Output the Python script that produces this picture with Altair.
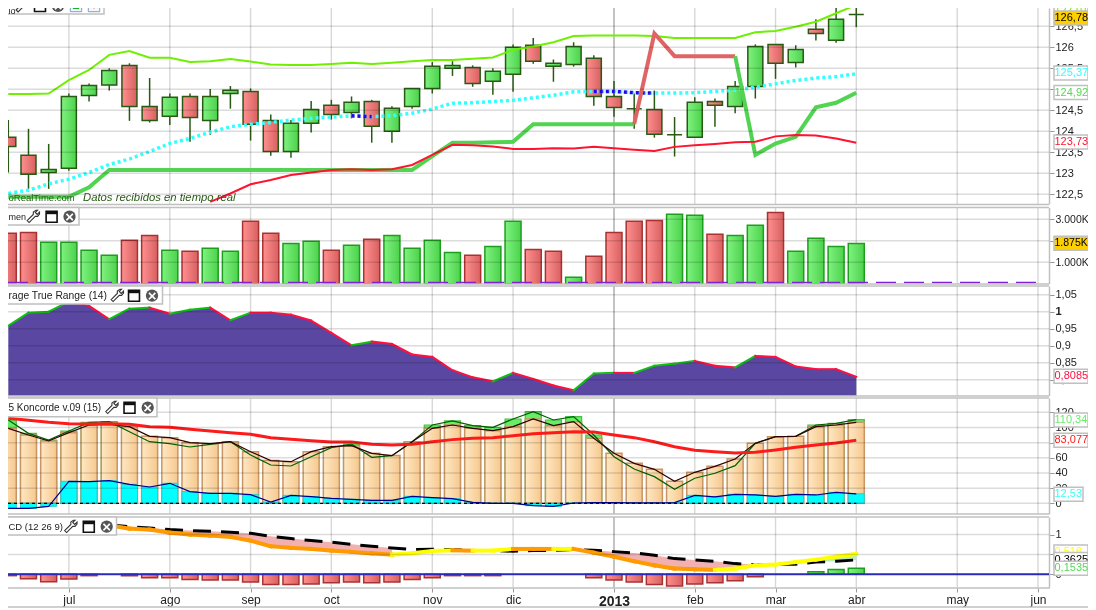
import altair as alt
import pandas as pd

FONT = "Liberation Sans"
idx = list(range(43))
# candles: high, body top, body bottom, low, up flag
c_high = [124.27,124.06,123.70,124.90,125.14,125.50,125.62,125.27,124.90,124.90,125.01,125.08,125.02,124.40,124.27,124.72,124.75,124.83,124.75,124.60,125.02,125.65,125.67,125.57,125.50,126.07,126.22,125.71,126.12,125.81,125.20,124.90,124.97,124.34,124.81,124.78,125.20,126.07,126.07,126.05,126.67,126.95,127.00]
c_top = [123.86,123.43,123.09,124.83,125.09,125.45,125.57,124.59,124.81,124.83,124.83,124.98,124.95,124.26,124.19,124.52,124.62,124.69,124.71,124.55,125.02,125.55,125.57,125.52,125.43,126.00,126.05,125.62,126.02,125.74,124.83,124.54,124.52,123.92,124.69,124.71,125.07,126.02,126.07,125.95,126.43,126.67,126.78]
c_bot = [123.64,122.98,123.02,123.12,124.85,125.10,124.59,124.26,124.36,124.33,124.26,124.90,124.17,123.52,123.52,124.19,124.40,124.45,124.12,124.00,124.59,125.02,125.50,125.14,125.19,125.36,125.67,125.55,125.59,124.83,124.57,124.54,123.93,123.92,123.86,124.62,124.59,125.07,125.62,125.64,126.33,126.17,126.78]
c_low = [123.02,122.63,122.63,123.06,124.71,124.97,124.25,124.21,124.15,123.75,123.92,124.54,123.78,123.42,123.37,123.97,124.28,124.31,123.73,123.73,124.54,124.90,125.32,125.06,124.87,124.94,125.61,125.18,125.54,124.61,124.35,124.06,123.85,123.40,123.86,124.11,124.43,124.78,125.25,125.52,126.16,126.11,126.48]
c_up = [0,0,1,1,1,1,0,0,1,0,1,1,0,0,1,1,0,1,0,1,1,1,1,0,1,1,0,1,1,0,0,1,0,1,1,0,1,1,0,1,0,1,1]
band_up = [124.89,124.89,124.90,125.22,125.46,125.82,125.91,125.75,125.75,125.65,125.67,125.72,125.66,125.59,125.58,125.58,125.60,125.63,125.60,125.63,125.67,125.70,125.70,125.73,125.76,125.94,126.02,126.12,126.27,126.28,126.28,126.28,126.27,126.22,126.22,126.22,126.22,126.36,126.39,126.49,126.61,126.81,127.01]
band_mid = [122.52,122.60,122.75,122.86,123.02,123.21,123.34,123.52,123.71,123.83,123.98,124.11,124.17,124.21,124.27,124.31,124.34,124.37,124.35,124.37,124.43,124.53,124.67,124.68,124.71,124.74,124.80,124.86,124.94,124.95,124.95,124.92,124.91,124.91,124.92,124.95,124.98,125.05,125.13,125.21,125.27,125.30,125.37]
stop_line = [122.44,122.44,122.44,122.44,122.67,123.08,123.08,123.08,123.08,123.08,123.08,123.08,123.08,123.08,123.08,123.08,123.08,123.08,123.08,123.08,123.08,123.41,123.73,123.73,123.74,123.75,124.17,124.17,124.17,124.17,124.17,124.17,126.33,125.79,125.79,125.79,125.79,123.44,123.71,123.87,124.57,124.68,124.92]
band_low = [None]*10 + [122.32,122.52,122.74,122.84,122.96,123.02,123.08,123.10,123.08,123.10,123.20,123.44,123.68,123.67,123.64,123.58,123.58,123.60,123.59,123.63,123.60,123.56,123.53,123.63,123.67,123.70,123.74,123.75,123.88,123.91,123.90,123.83,123.73]
# volume (thousands)
vol = [2.35,2.39,1.93,1.93,1.56,1.33,2.02,2.25,1.56,1.51,1.65,1.51,2.91,2.35,1.88,1.98,1.56,1.79,2.07,2.25,1.65,2.02,1.46,1.33,1.74,2.91,1.60,1.51,0.30,1.28,2.39,2.91,2.95,3.23,3.19,2.30,2.25,2.72,3.32,1.51,2.12,1.74,1.875]
vol_up = [0,0,1,1,1,1,0,0,1,0,1,1,0,0,1,1,0,1,0,1,1,1,1,0,1,1,0,0,1,0,0,0,0,1,1,0,1,1,0,1,1,1,1]
vol_base = [0.06]
# ATR
atr = [0.959,0.997,1.0,1.03,1.017,0.978,1.009,1.012,0.994,1.006,1.012,0.975,0.997,0.997,0.991,0.974,0.938,0.901,0.912,0.905,0.874,0.867,0.828,0.807,0.795,0.820,0.802,0.783,0.769,0.818,0.820,0.820,0.841,0.847,0.855,0.841,0.836,0.870,0.867,0.839,0.831,0.831,0.8085]
# Koncorde
k_peach = [98.9,90.1,82.2,93.2,103.3,104.2,101.1,88.4,86.6,80,78.7,81.3,68.1,56.3,54.9,68.1,74.7,76,65.9,62.9,81.3,98.9,103.3,98.9,95.8,101.1,111.2,102.4,107.7,85.7,65.9,52.7,44.8,29,40.9,48.8,58.5,79.1,87.9,88.4,101.1,103.3,106.8]
k_green = [109.9,92.3,83.5,95.4,106.8,107.7,94.5,81.3,78.7,74.3,77.8,81.3,63.7,50.5,49.2,61.5,73.4,78.2,60.7,62.9,81.3,103.3,108.6,102.4,100.2,111.2,120.9,109.9,114.3,90.1,61.5,45.3,35.2,18.5,33,39.6,49.7,79.1,87.9,88.4,103.3,105.5,110.34]
k_cyan = [-6.6,-6.6,-4,29,28.6,29.9,25,21.5,26.4,15.4,13.2,13.2,11.4,1.5,10.5,8.8,6.6,5.3,4,4,9.2,7.5,6.2,1.3,0,0,-3.1,-4,0.4,1,1,0.5,0.5,1,10.5,8.4,11.9,11,9.2,11.9,11,14.5,12.53]
k_red = [112.1,109.5,106.8,105.1,104.6,105.1,104.2,101.1,100.2,97.6,95.4,93.2,91,86.6,84.4,82.6,80.9,80.9,77.8,76.9,77.8,81.3,84,85.7,86.6,89.2,91.9,93.2,94.5,94.1,90.1,86.6,81.3,74.7,69.9,68.1,66.4,67.3,70.3,73.8,76.9,79.6,83.077]
# MACD (from week 5)
m_idx = list(range(5, 43))
m_line = [1.235,1.151,1.126,1.050,1.0,0.975,0.941,0.849,0.706,0.664,0.639,0.597,0.563,0.529,0.496,0.529,0.588,0.605,0.597,0.597,0.639,0.639,0.639,0.639,0.546,0.445,0.328,0.227,0.143,0.126,0.109,0.143,0.227,0.244,0.311,0.370,0.445,0.516]
m_sig = [1.25,1.2,1.168,1.126,1.10,1.084,1.059,1.034,0.958,0.899,0.849,0.807,0.756,0.706,0.664,0.622,0.630,0.622,0.597,0.597,0.580,0.597,0.605,0.622,0.605,0.571,0.538,0.479,0.395,0.361,0.328,0.269,0.244,0.252,0.252,0.311,0.328,0.3625]
m_rising = [19,20,21,23,24,27,35,36,37,38,39,40,41]
m_hist = [-0.034,-0.11,-0.19,-0.12,-0.034,0,-0.034,-0.084,-0.084,-0.134,-0.143,-0.143,-0.193,-0.26,-0.26,-0.244,-0.21,-0.193,-0.21,-0.193,-0.134,-0.084,-0.034,-0.034,-0.034,0,0,0,0,-0.084,-0.143,-0.193,-0.26,-0.294,-0.244,-0.21,-0.16,-0.059,0,0,0.067,0.118,0.1535]
# time axis
month_pos = [3,8,12,16,21,25,30,34,38,42,47,51]
month_lab = ["jul","ago","sep","oct","nov","dic","2013","feb","mar","abr","may","jun"]
# tick values per panel
ticks1 = [122.5,123,123.5,124,124.5,125,125.5,126,126.5]
ticks2 = [1,2,3]
ticks3 = [0.8,0.85,0.9,0.95,1,1.05]
ticks4 = [0,20,40,60,80,100,120]
ticks5 = [0,0.5,1]
# panel domains and pixel ranges
dom1, rng1 = [122.27, 126.936], [196, 0]
dom2, rng2 = [0, 3.549], [275.8, 199.5]
dom3, rng3 = [0.7529, 1.0756], [387.7, 278]
dom4, rng4 = [-14.1, 138.9], [506, 390]
dom5, rng5 = [-0.345, 1.443], [580, 509]

W, H = 1041, 580
XMIN, XMAX = -0.0149, 51.545
GRID = "#d8d8d8"
FRAME = "#c0c0c0"
CANDLE = "#285a14"
def grad(a, b):
    return {"gradient": "linear", "x1": 0, "x2": 1, "y1": 0, "y2": 0,
            "stops": [{"offset": 0, "color": a}, {"offset": 1, "color": b}]}
G_GREEN = grad("#80f280", "#4cd24c")
G_RED = grad("#ff9090", "#d86060")
G_PEACH = grad("#ffe8c4", "#f6c88e")

xs = alt.Scale(domain=[XMIN, XMAX], range=[0, W], nice=False, zero=False, padding=0)
label_expr = "{" + ",".join(f"'{p}':'{m}'" for p, m in zip(month_pos, month_lab)) + "}[datum.value]"
x_axis = alt.Axis(
    values=month_pos, labelExpr=label_expr, title=None, grid=False,
    domain=False, tickColor="#999999", tickSize=4, labelFont=FONT, labelColor="#222222",
    labelFontSize={"condition": {"test": "datum.value == 30", "value": 14}, "value": 12},
    labelFontWeight={"condition": {"test": "datum.value == 30", "value": "bold"}, "value": "normal"},
    labelPadding=2, labelOverlap=False)
def X(f="i"):
    return alt.X(f"{f}:Q", scale=xs, axis=x_axis)

def yaxis(values, expr, weight=None, size=11):
    kw = {}
    if weight is not None:
        kw["labelFontWeight"] = {"condition": {"test": weight, "value": "bold"}, "value": "normal"}
    return alt.Axis(orient="right", values=values, labelExpr=expr, title=None, grid=False,
                    domainColor=FRAME, domainWidth=1.5,
                    tickColor="#999999", tickSize=5, labelFont=FONT, labelFontSize=size,
                    labelColor="#222222", labelPadding=1, labelOverlap=False, **kw)

COMMA = "replace(datum.value + '', '.', ',')"

month_df = pd.DataFrame({"i": month_pos, "c": ["#aaaaaa" if m == "2013" else GRID for m in month_lab]})
month_grid = alt.Chart(month_df).mark_rule(strokeWidth=1.4).encode(
    x=X(), y=alt.value(0), y2=alt.value(H), color=alt.Color("c:N", scale=None))

# ---------- Panel 1
s1 = alt.Scale(domain=dom1, range=rng1, nice=False, zero=False, padding=0)
a1 = yaxis(ticks1, COMMA)
def Y1(f):
    return alt.Y(f"{f}:Q", scale=s1, axis=a1)
df1 = pd.DataFrame({"i": idx, "h": c_high, "t": c_top, "b": c_bot, "l": c_low, "up": c_up,
                    "u": band_up, "m": band_mid, "s": stop_line, "r": band_low})
p1_layers = [
    alt.Chart(df1).mark_rule(color=CANDLE, strokeWidth=1.5).encode(x=X(), y=Y1("h"), y2="l:Q"),
]
for flag, g in ((1, G_GREEN), (0, G_RED)):
    p1_layers.append(alt.Chart(df1[df1.up == flag]).mark_bar(size=15, fill=g, stroke=CANDLE, strokeWidth=1.5).encode(
        x=X(), y=Y1("t"), y2="b:Q"))
p1_layers += [
    alt.Chart(df1).mark_line(color="#33ffff", strokeWidth=3.5, strokeDash=[3, 3]).encode(x=X(), y=Y1("m")),
    alt.Chart(df1[df1.i.isin([17, 18])]).mark_line(color="#2a00f0", strokeWidth=3.5, strokeDash=[3, 3]).encode(x=X(), y=Y1("m")),
    alt.Chart(df1[df1.i.isin([29, 30, 31, 32])]).mark_line(color="#2a00f0", strokeWidth=3.5, strokeDash=[3, 3]).encode(x=X(), y=Y1("m")),
    alt.Chart(df1).mark_line(color="#6ef000", strokeWidth=2).encode(x=X(), y=Y1("u")),
    alt.Chart(df1[df1.i <= 31]).mark_line(color="#52d452", strokeWidth=4).encode(x=X(), y=Y1("s")),
    alt.Chart(df1[(df1.i >= 31) & (df1.i <= 36)]).mark_line(color="#e06464", strokeWidth=4).encode(x=X(), y=Y1("s")),
    alt.Chart(df1[df1.i >= 36]).mark_line(color="#52d452", strokeWidth=4).encode(x=X(), y=Y1("s")),
    alt.Chart(df1[df1.r.notna()]).mark_line(color="#ff1430", strokeWidth=2).encode(x=X(), y=Y1("r")),
]
p1 = alt.layer(*p1_layers)

# ---------- Panel 2
s2 = alt.Scale(domain=dom2, range=rng2, nice=False, zero=False, padding=0)
a2 = yaxis(ticks2, "datum.value == 2 ? '' : format(datum.value, '.3f') + 'K'", size=10.5)
def Y2(f):
    return alt.Y(f"{f}:Q", scale=s2, axis=a2, stack=None)
df2 = pd.DataFrame({"i": idx, "v": vol, "up": vol_up})
df2["z"] = 0.0
p2 = alt.layer(
    alt.Chart(df2[df2.up == 1]).mark_bar(size=16, fill=G_GREEN, stroke="#1e9e1e", strokeWidth=1.5).encode(
        x=X(), y=Y2("v"), y2="z:Q"),
    alt.Chart(df2[df2.up == 0]).mark_bar(size=16, fill=G_RED, stroke="#a83232", strokeWidth=1.5).encode(
        x=X(), y=Y2("v"), y2="z:Q"),
    alt.Chart(pd.DataFrame({"a": [XMIN], "b": [51.05], "v": vol_base})).mark_rule(
        color="#8020d8", strokeWidth=1.5, strokeDash=[20, 8]).encode(x=X("a"), x2="b:Q", y=Y2("v")),
)

# ---------- Panel 3
s3 = alt.Scale(domain=dom3, range=rng3, nice=False, zero=False, padding=0)
a3 = yaxis(ticks3, COMMA, "datum.value == 1")
def Y3(f):
    return alt.Y(f"{f}:Q", scale=s3, axis=a3)
df3 = pd.DataFrame({"i": idx, "v": atr})
df3["z"] = 0.7529
seg3 = pd.DataFrame({"i": idx[:-1], "i2": idx[1:], "v": atr[:-1], "v2": atr[1:]})
seg3["c"] = ["#10c010" if b > a else "#ff1040" for a, b in zip(atr[:-1], atr[1:])]
p3 = alt.layer(
    alt.Chart(df3).mark_area(color="#5947a1", orient="vertical").encode(x=X(), y=Y3("v"), y2="z:Q"),
    alt.Chart(seg3).mark_rule(strokeWidth=2, strokeCap="square").encode(
        x=X(), x2="i2:Q", y=Y3("v"), y2="v2:Q", color=alt.Color("c:N", scale=None)),
)

# ---------- Panel 4
s4 = alt.Scale(domain=dom4, range=rng4, nice=False, zero=False, padding=0)
a4 = yaxis(ticks4, COMMA)
def Y4(f):
    return alt.Y(f"{f}:Q", scale=s4, axis=a4, stack=None)
df4 = pd.DataFrame({"i": idx, "p": k_peach, "g": k_green, "c": k_cyan, "r": k_red})
df4["z"] = 0.0
p4 = alt.layer(
    alt.Chart(df4[df4.g > df4.p]).mark_bar(size=16, fill="#66ee66", stroke="#48c048", strokeWidth=1.2).encode(
        x=X(), y=Y4("g"), y2="z:Q"),
    alt.Chart(df4).mark_bar(size=16, fill=G_PEACH, stroke="#c89664", strokeWidth=1.5).encode(
        x=X(), y=Y4("p"), y2="z:Q"),
    alt.Chart(df4).mark_bar(size=16, fill="#00ffff", stroke="#30c8c8", strokeWidth=1).encode(
        x=X(), y=Y4("c"), y2="z:Q"),
    alt.Chart(pd.DataFrame({"a": [XMIN], "b": [42], "z": [0.0]})).mark_rule(
        color="#000000", strokeWidth=1.2, strokeDash=[3, 3]).encode(x=X("a"), x2="b:Q", y=Y4("z")),
    alt.Chart(df4).mark_line(color="#000090", strokeWidth=1.2).encode(x=X(), y=Y4("c")),
    alt.Chart(df4).mark_line(color="#006000", strokeWidth=1.2).encode(x=X(), y=Y4("g")),
    alt.Chart(df4).mark_line(color="#300000", strokeWidth=1.2).encode(x=X(), y=Y4("p")),
    alt.Chart(df4).mark_line(color="#ff1a1a", strokeWidth=3).encode(x=X(), y=Y4("r")),
)

# ---------- Panel 5
s5 = alt.Scale(domain=dom5, range=rng5, nice=False, zero=False, padding=0)
a5 = yaxis(ticks5, "datum.value == 0.5 ? '' : " + COMMA)
def Y5(f):
    return alt.Y(f"{f}:Q", scale=s5, axis=a5, stack=None)
df5 = pd.DataFrame({"i": m_idx, "m": m_line, "s": m_sig})
dfh = pd.DataFrame({"i": idx, "h": m_hist})
dfh["z"] = 0.0
seg5 = pd.DataFrame({"i": m_idx[:-1], "i2": m_idx[1:], "v": m_line[:-1], "v2": m_line[1:]})
seg5["c"] = ["#ffff00" if k in m_rising else "#ff9a00" for k in seg5.i]
p5 = alt.layer(
    alt.Chart(dfh[dfh.h < 0]).mark_bar(size=16, fill=G_RED, stroke="#a83232", strokeWidth=1.5).encode(
        x=X(), y=Y5("h"), y2="z:Q"),
    alt.Chart(dfh[dfh.h > 0]).mark_bar(size=16, fill=G_GREEN, stroke="#1e9e1e", strokeWidth=1.5).encode(
        x=X(), y=Y5("h"), y2="z:Q"),
    alt.Chart(df5[df5.i <= 19]).mark_area(color="#f2b0b0", orient="vertical").encode(x=X(), y=Y5("m"), y2="s:Q"),
    alt.Chart(df5[(df5.i >= 28) & (df5.i <= 38)]).mark_area(color="#f2b0b0", orient="vertical").encode(x=X(), y=Y5("m"), y2="s:Q"),
    alt.Chart(df5[df5.i >= 38]).mark_area(color="#b8ecb8", orient="vertical").encode(x=X(), y=Y5("m"), y2="s:Q"),
    alt.Chart(df5).mark_line(color="#000000", strokeWidth=3, strokeDash=[18, 10]).encode(x=X(), y=Y5("s")),
    alt.Chart(seg5).mark_rule(strokeWidth=4, strokeCap="square").encode(
        x=X(), x2="i2:Q", y=Y5("v"), y2="v2:Q", color=alt.Color("c:N", scale=None)),
    alt.Chart(pd.DataFrame({"z": [0.0]})).mark_rule(color="#3030d8", strokeWidth=2).encode(y=Y5("z")),
)

# ---------- chrome helpers (page pixels minus the 8px page margin)
ONE = pd.DataFrame({"a": [0]})
def px(v):
    return alt.value(v - 8)
def box(x0, x1, y0, y1, fill="white", stroke=FRAME, sw=1.5):
    return alt.Chart(ONE).mark_rect(fill=fill, stroke=stroke, strokeWidth=sw).encode(
        x=px(x0), x2=px(x1), y=px(y0), y2=px(y1))
def hline(y, x0=8, x1=1049, color=FRAME):
    return alt.Chart(ONE).mark_rule(color=color, strokeWidth=1.5).encode(
        x=px(x0), x2=px(x1), y=px(y))
def text(x, y, s, color="#222222", align="left", size=11, **kw):
    return alt.Chart(ONE).mark_text(text=s, color=color, align=align, baseline="middle",
                                    font=FONT, fontSize=size, **kw).encode(x=px(x), y=px(y))

# horizontal grid lines, blended so that they stay faint over the marks
def tick_page_y(v, dom, rng):
    return rng[0] + (v - dom[0]) / (dom[1] - dom[0]) * (rng[1] - rng[0]) + 8
def gline(y):
    return alt.Chart(ONE).mark_rule(color="#dcdcdc", strokeWidth=1.5, blend="multiply").encode(
        x=px(8), x2=px(1049), y=px(y))
hgrid = []
for ticks, dom, rng in ((ticks1, dom1, rng1), (ticks2, dom2, rng2), (ticks3, dom3, rng3),
                        (ticks4, dom4, rng4), (ticks5, dom5, rng5)):
    hgrid += [gline(tick_page_y(v, dom, rng)) for v in ticks]

WRENCH = "M-0.9,0.6L0.05,-0.35L0.05,-0.7L0.45,-1L0.7,-1L0.35,-0.65L0.65,-0.35L1,-0.7L1,-0.4L0.7,-0.05L0.35,-0.05L-0.6,0.9Z"
def toolbar(right, top, bottom, label, tx, tsize, ty, wx, vx, cx, cy):
    return [
        box(0, right, top, bottom),
        text(tx, ty, label, size=tsize),
        alt.Chart(ONE).mark_point(shape=WRENCH, size=170, fill="white", stroke="#333333", strokeWidth=1.1, opacity=1).encode(x=px(wx), y=px(cy)),
        alt.Chart(ONE).mark_point(shape="square", size=120, fill="white", stroke="#111111", strokeWidth=1.6, opacity=1).encode(x=px(vx), y=px(cy)),
        alt.Chart(ONE).mark_rule(color="#111111", strokeWidth=3).encode(x=px(vx - 5.5), x2=px(vx + 5.5), y=px(cy - 4)),
        alt.Chart(ONE).mark_point(shape="circle", size=150, filled=True, color="#555555", opacity=1).encode(x=px(cx), y=px(cy)),
        text(cx, cy, "×", color="white", align="center", size=15, fontWeight="bold"),
    ]

gap_rects = [box(8, 1049, a, b, stroke="white", sw=0) for a, b in ((204.5, 207.5), (284, 286), (396, 398), (514, 517))]
frames = [hline(y) for y in (204.5, 207.5, 284, 286, 396, 398, 514, 517, 588)] + [hline(607, 8, 1096)]

notes = [
    text(8.5, 198, "oRealTime.com", color=CANDLE, size=9.5),
    text(83, 198, "Datos recibidos en tiempo real", color=CANDLE, fontStyle="italic", size=11.3),
]

bars = []
bars += toolbar(104, -2, 14, "io", 8.5, 9, 11, 22, 40, 58, 6)
for bx, col, sym in ((76, "#10b030", "triangle-up"), (94, "#e03030", "triangle-down")):
    bars.append(alt.Chart(ONE).mark_point(shape="square", size=130, fill="#f4f8fc", stroke="#7a9fc8", strokeWidth=1, opacity=1).encode(x=px(bx), y=px(6)))
    bars.append(alt.Chart(ONE).mark_point(shape=sym, size=45, filled=True, color=col, opacity=1).encode(x=px(bx), y=px(6)))
bars += toolbar(79, 207.5, 225, "men", 8.5, 9, 216.7, 33, 51.6, 69.5, 216.7)
bars += toolbar(162.5, 286, 304, "rage True Range (14)", 8.5, 10.3, 295.7, 117, 134, 152, 295.7)
bars += toolbar(157, 398, 416.7, "5 Koncorde v.09 (15)", 8.5, 10, 407.7, 111.6, 129.5, 147.7, 407.7)
bars += toolbar(116.5, 517, 535, "CD (12 26 9)", 8.5, 9.5, 526.7, 70.5, 88.8, 106.7, 526.7)

def vbox(y, s, color, fill="white", x1=1088, size=11):
    return [box(1054, x1, y - 7, y + 7, fill=fill), text(1054.5, y, s, color=color, size=size)]
vals = []
vals += vbox(11, "127,01", "#6ef000")
vals += vbox(18, "126,78", "#000000", fill="#ffd000")
vals += vbox(73, "125,37", "#33ffff")
vals += vbox(92.6, "124,92", "#55d855")
vals += vbox(142, "123,73", "#ff1430")
vals += vbox(243.3, "1.875K", "#000000", fill="#ffd000", size=10.5)
vals += vbox(376.3, "0,8085", "#ff1040")
vals += vbox(420, "110,34", "#66ee66")
vals += vbox(440.3, "83,077", "#ff1a1a")
vals += vbox(494.3, "12,53", "#33ffff", x1=1083)
vals += vbox(552, "0,516", "#ffff00")
vals += vbox(559.5, "0,3625", "#000000")
vals += vbox(568.3, "0,1535", "#55d855")

chart = alt.layer(
    month_grid, p1, p2, p3, p4, p5, *gap_rects, *hgrid, *frames, *notes, *bars, *vals
).resolve_scale(y="independent").properties(
    width=W, height=H,
    autosize=alt.AutoSizeParams(type="none"),
    padding={"left": 0, "top": 0, "right": 39, "bottom": 22},
    background="white",
).configure_view(stroke=None)

chart.save("out.html", embed_options={"renderer": "svg", "actions": False})
